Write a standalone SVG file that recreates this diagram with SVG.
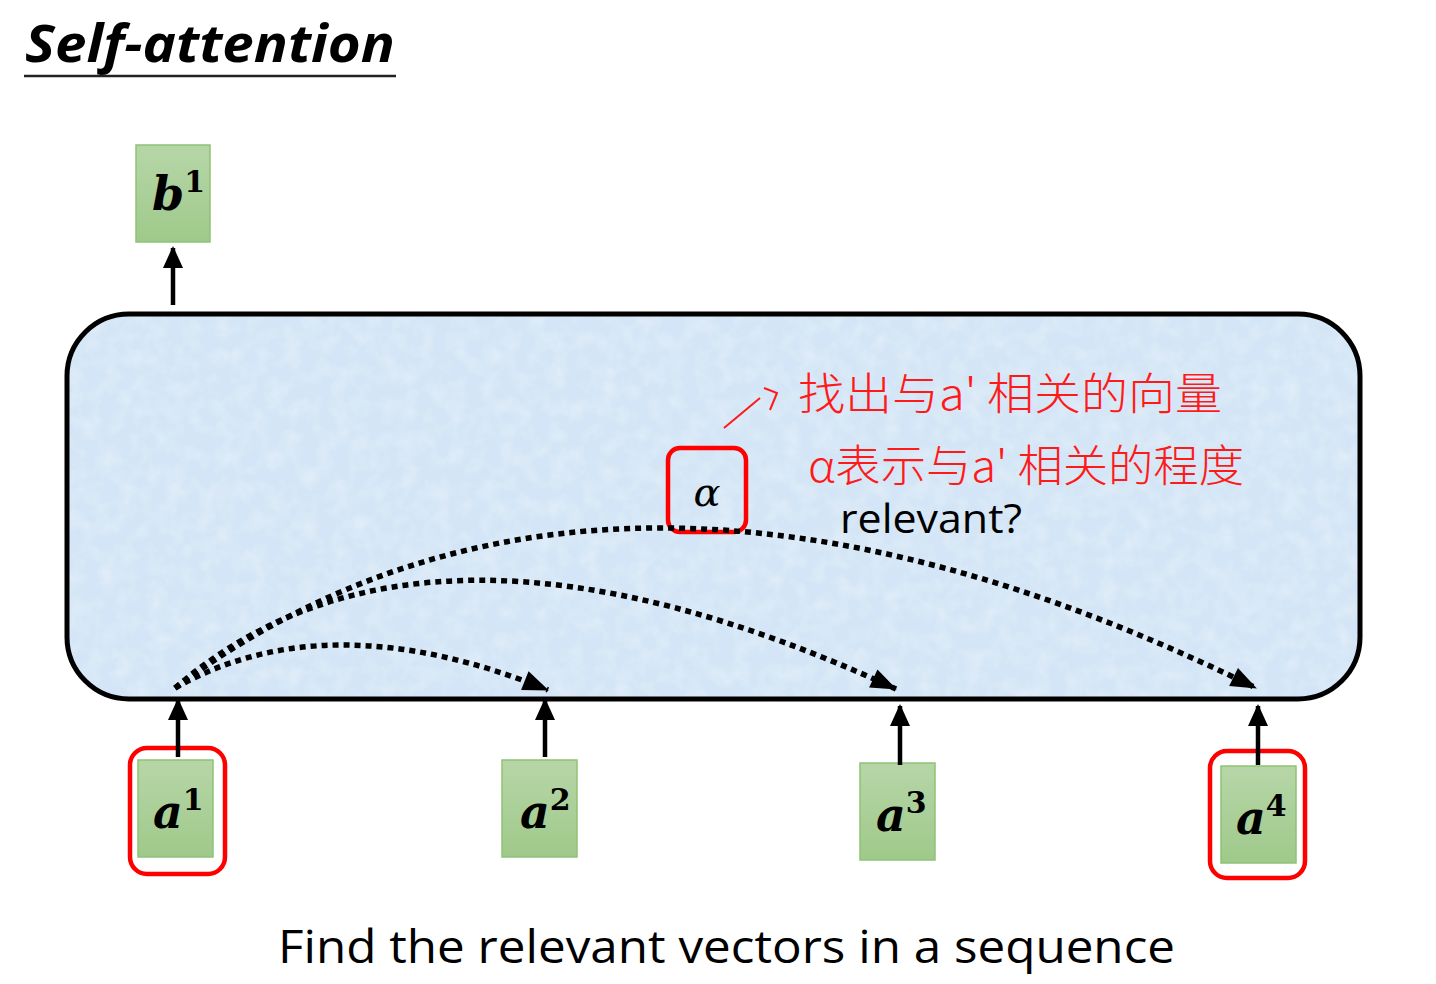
<svg xmlns="http://www.w3.org/2000/svg" width="1436" height="984" viewBox="0 0 1436 984">
<defs>
<linearGradient id="green" x1="0" y1="0" x2="0" y2="1">
<stop offset="0" stop-color="#b7d6a8"/>
<stop offset="1" stop-color="#9fc98a"/>
</linearGradient>
<filter id="tex" x="0" y="0" width="100%" height="100%">
<feTurbulence type="fractalNoise" baseFrequency="0.06" numOctaves="3" seed="4" result="n"/>
<feColorMatrix in="n" type="matrix" values="0 0 0 0 0.78  0 0 0 0 0.86  0 0 0 0 0.95  0 0 0 1.4 -0.5" result="c"/>
<feComposite in="c" in2="SourceGraphic" operator="in" result="t"/>
<feMerge><feMergeNode in="SourceGraphic"/><feMergeNode in="t"/></feMerge>
</filter>
<marker id="solid" markerUnits="userSpaceOnUse" markerWidth="24" markerHeight="24" refX="20" refY="12" orient="auto" overflow="visible">
<path d="M0,2 L22,12 L0,22 Z" fill="#000"/>
</marker>
<marker id="dot" markerUnits="userSpaceOnUse" markerWidth="28" markerHeight="24" refX="25" refY="12" orient="auto" overflow="visible">
<path d="M0,2 L26,12 L0,22 Z" fill="#000"/>
</marker>
<style>
.box{fill:url(#green);stroke:#8fc274;stroke-width:1.5}
.red{fill:none;stroke:#ff0000;stroke-width:4.5}
.math{font-family:"DejaVu Serif","Liberation Serif",serif;font-weight:bold;font-style:italic;fill:#000}
.up{stroke:#000;stroke-width:4.5;fill:none;marker-end:url(#solid)}
.arc{stroke:#000;stroke-width:5.5;stroke-dasharray:6 5;fill:none;marker-end:url(#dot)}
.hand{font-family:"Noto Sans CJK SC","Noto Sans CJK JP",sans-serif;font-weight:300;fill:#ff1a1a;font-size:44px}
</style>
</defs>
<rect width="1436" height="984" fill="#fff"/>
<g id="title">
<text x="25" y="62" font-family="Open Sans, Liberation Sans, sans-serif" font-weight="bold" font-style="italic" font-size="52" textLength="370" lengthAdjust="spacingAndGlyphs">Self-attention</text>
<line x1="24" y1="76" x2="396" y2="76" stroke="#222" stroke-width="2.5"/>
</g>
<g id="self-attention-block">
<rect x="67" y="314" width="1293" height="385" rx="62" fill="#d3e5f6" stroke="none" filter="url(#tex)"/>
<rect x="67" y="314" width="1293" height="385" rx="62" fill="none" stroke="#000" stroke-width="5"/>
</g>
<g id="b1">
<rect class="box" x="136" y="145" width="74" height="97"/>
<text class="math" x="152" y="210" font-size="46">b<tspan font-size="30" dy="-18" font-style="normal">1</tspan></text>
</g>
<g id="a1">
<rect class="red" x="130" y="748" width="95" height="126" rx="17"/>
<rect class="box" x="138" y="760" width="75" height="97"/>
<text class="math" x="153" y="828" font-size="46">a<tspan font-size="30" dy="-18" font-style="normal">1</tspan></text>
</g>
<g id="a2">
<rect class="box" x="502" y="760" width="75" height="97"/>
<text class="math" x="520" y="828" font-size="46">a<tspan font-size="30" dy="-18" font-style="normal">2</tspan></text>
</g>
<g id="a3">
<rect class="box" x="860" y="763" width="75" height="97"/>
<text class="math" x="876" y="831" font-size="46">a<tspan font-size="30" dy="-18" font-style="normal">3</tspan></text>
</g>
<g id="a4">
<rect class="red" x="1210" y="751" width="95" height="127" rx="17"/>
<rect class="box" x="1221" y="766" width="75" height="97"/>
<text class="math" x="1236" y="834" font-size="46">a<tspan font-size="30" dy="-18" font-style="normal">4</tspan></text>
</g>
<g id="alpha">
<rect class="red" x="668" y="448" width="78" height="84" rx="12"/>
<text x="707" y="506" text-anchor="middle" font-family="DejaVu Serif, Liberation Serif, serif" font-style="italic" font-size="40" fill="#000">α</text>
</g>
<g id="labels">
<text x="840" y="533" font-family="Open Sans, Liberation Sans, sans-serif" font-size="40" fill="#000" textLength="182" lengthAdjust="spacingAndGlyphs">relevant?</text>
<text x="278" y="963" font-family="Open Sans, Liberation Sans, sans-serif" font-size="46" fill="#000" textLength="897" lengthAdjust="spacingAndGlyphs">Find the relevant vectors in a sequence</text>
</g>
<g id="annotation">
<path d="M724,428 L760,398 M764,388 L777,393 L770,410" fill="none" stroke="#ff1a1a" stroke-width="2"/>
<text class="hand" x="798" y="410" textLength="424" lengthAdjust="spacingAndGlyphs">找出与a' 相关的向量</text>
<text class="hand" x="808" y="482" textLength="436" lengthAdjust="spacingAndGlyphs">α表示与a' 相关的程度</text>
</g>
<g id="connectors">
<line class="up" x1="173" y1="305" x2="173" y2="248"/>
<line class="up" x1="178" y1="757" x2="178" y2="700"/>
<line class="up" x1="545" y1="757" x2="545" y2="700"/>
<line class="up" x1="900" y1="765" x2="900" y2="706"/>
<line class="up" x1="1258" y1="765" x2="1258" y2="706"/>
<path class="arc" d="M175,688 Q328,601 548,690"/>
<path class="arc" d="M175,688 Q425,472 896,689"/>
<path class="arc" d="M175,688 Q605,368 1256,688"/>
</g>
</svg>
